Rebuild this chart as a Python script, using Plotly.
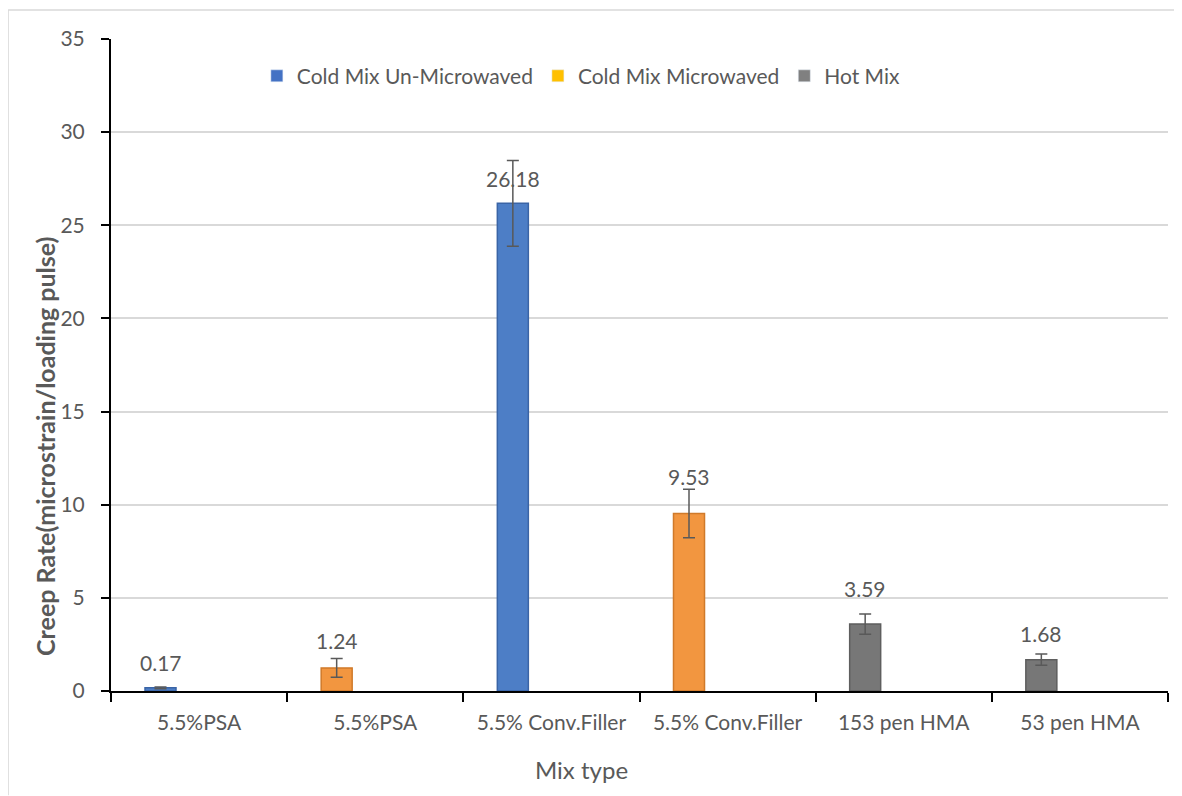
import plotly.graph_objects as go

categories = ["5.5%PSA", "5.5%PSA", "5.5% Conv.Filler", "5.5% Conv.Filler", "153 pen HMA", "53 pen HMA"]

series_names = ["Cold Mix Un-Microwaved", "Cold Mix Microwaved", "Hot Mix"]
series_cats = [[0, 2], [1, 3], [4, 5]]
series_values = [[0.17, 26.18], [1.24, 9.53], [3.59, 1.68]]
series_errors = [[0.05, 2.3], [0.5, 1.3], [0.55, 0.3]]

bar_colors = ["#4D7EC6", "#F29640", "#777777"]
bar_edges = ["#3A64A6", "#D07A2A", "#5E5E5E"]
legend_colors = ["#4472C4", "#FFC000", "#808080"]

font = "Lato, 'Open Sans', sans-serif"
txt = "#595959"

BAR_OFFSET = -0.307
BAR_WIDTH = 0.176
# pixel lift of each data label above its bar (styling, per series)
label_lift = [[25, 25], [27, 37], [36, 26]]

fig = go.Figure()

for name, cats, vals, errs, col, edge in zip(series_names, series_cats, series_values,
                                             series_errors, bar_colors, bar_edges):
    fig.add_trace(go.Bar(
        x=cats, y=vals, name=name, showlegend=False,
        offset=BAR_OFFSET, width=BAR_WIDTH,
        marker=dict(color=col, line=dict(color=edge, width=1.5)),
        error_y=dict(type="data", array=errs, visible=True,
                     color="#595959", thickness=1.5, width=6),
    ))

for name, lc in zip(series_names, legend_colors):
    fig.add_trace(go.Bar(x=[None], y=[None], name=name, marker=dict(color=lc),
                         showlegend=True))

for cats, vals, lifts in zip(series_cats, series_values, label_lift):
    for c, v, s in zip(cats, vals, lifts):
        fig.add_annotation(x=c + BAR_OFFSET + BAR_WIDTH / 2, y=v, text=f"{v:.2f}",
                           showarrow=False, yshift=s,
                           font=dict(family=font, size=21, color=txt))

# axis titles (placed as in the reference, not centred on the plot)
fig.add_annotation(xref="paper", yref="paper", x=-0.063, y=0.375, textangle=-90,
                   text="<b>Creep Rate(microstrain/loading pulse)</b>", showarrow=False,
                   xanchor="center", yanchor="middle",
                   font=dict(family=font, size=25, color=txt))
fig.add_annotation(xref="paper", yref="paper", x=0.445, y=-0.12,
                   text="Mix type", showarrow=False, xanchor="center", yanchor="middle",
                   font=dict(family=font, size=24, color=txt))

fig.add_shape(type="line", xref="paper", yref="paper", x0=-0.0974, x1=1.03,
              y0=1.0445, y1=1.0445, line=dict(color="#D9D9D9", width=1.5))
fig.add_shape(type="line", xref="paper", yref="paper", x0=-0.0974, x1=-0.0974,
              y0=1.0445, y1=-0.16, line=dict(color="#D9D9D9", width=1.5))

fig.update_layout(
    width=1182, height=796,
    margin=dict(l=103, r=22, t=31, b=113),
    paper_bgcolor="white", plot_bgcolor="white",
    barmode="overlay",
    font=dict(family=font, size=21, color=txt),
    legend=dict(orientation="h", x=0.138, y=0.943, xanchor="left", yanchor="middle",
                font=dict(size=21, color=txt), bgcolor="rgba(0,0,0,0)",
                itemwidth=30, traceorder="normal"),
    xaxis=dict(
        range=[-0.5, 5.5], tickmode="array", tickvals=list(range(len(categories))),
        ticktext=categories, ticks="", showgrid=False, zeroline=False,
        showline=True, linecolor="black", linewidth=2,
        tickfont=dict(size=21, color=txt), ticklabelstandoff=12,
        minor=dict(tickmode="array", tickvals=[i - 0.5 for i in range(len(categories) + 1)],
                   ticks="outside", ticklen=9, tickwidth=2, tickcolor="black", showgrid=False),
    ),
    yaxis=dict(
        range=[0, 35], dtick=5, tick0=0, ticks="outside", ticklen=8, tickwidth=2,
        tickcolor="black", showline=True, linecolor="black", linewidth=2,
        showgrid=True, gridcolor="#D9D9D9", gridwidth=1.5, zeroline=False,
        tickfont=dict(size=21, color=txt), ticklabelstandoff=12,
    ),
)

fig.write_html("out.html")
